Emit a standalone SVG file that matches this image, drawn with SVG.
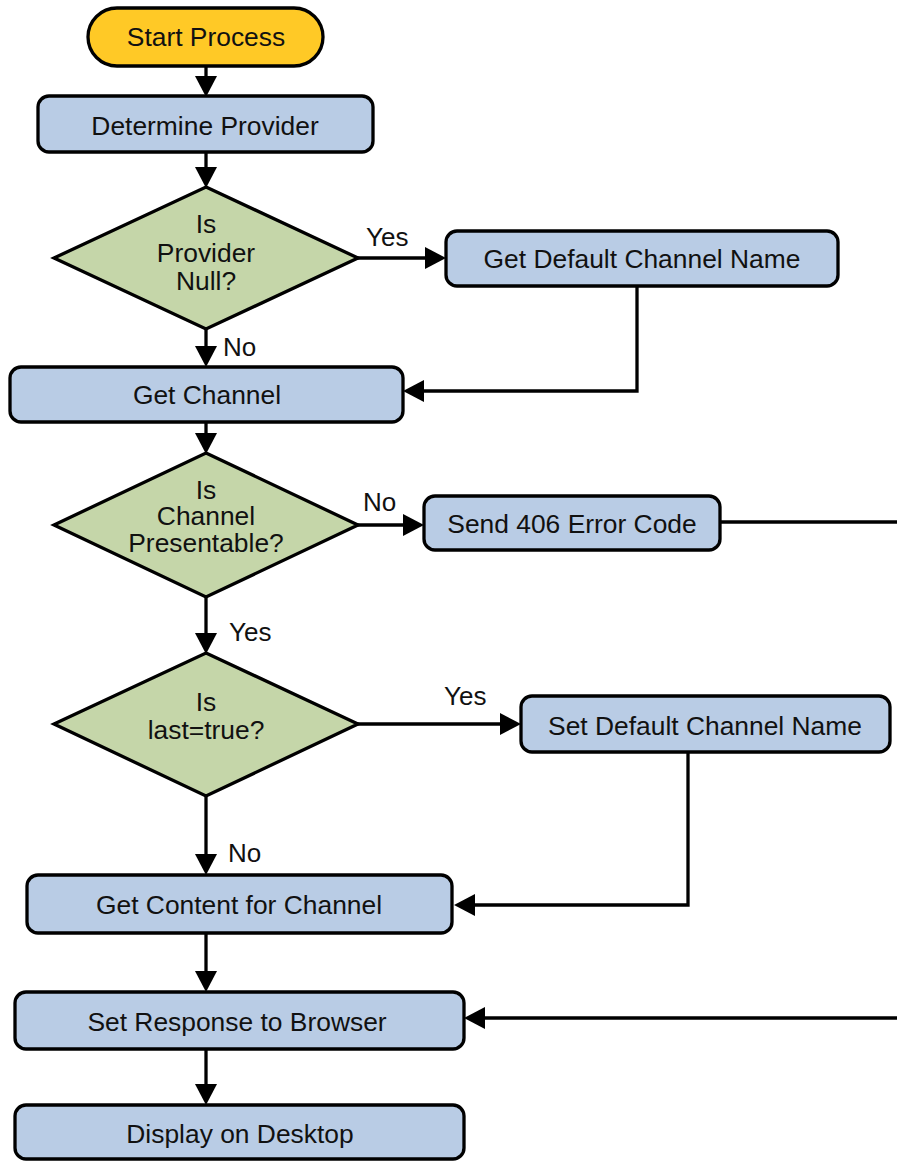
<svg xmlns="http://www.w3.org/2000/svg" width="897" height="1161" viewBox="0 0 897 1161">
  <style>
    .box { fill: #b9cce5; stroke: #000; stroke-width: 3.3; }
    .start { fill: #ffc926; stroke: #000; stroke-width: 3.3; }
    .dec { fill: #c5d6a9; stroke: #000; stroke-width: 3.3; stroke-linejoin: miter; }
    .t { font-family: "Liberation Sans", Arial, sans-serif; font-size: 26.4px; fill: #111; text-anchor: middle; }
    .lbl { font-family: "Liberation Sans", Arial, sans-serif; font-size: 26px; fill: #111; }
    .edge { fill: none; stroke: #000; stroke-width: 3.3; }
  </style>
  <defs>
    <marker id="arrow" markerUnits="userSpaceOnUse" markerWidth="22" markerHeight="22" refX="10" refY="11" orient="auto" viewBox="0 0 22 22">
      <path d="M0,0 L21,11 L0,22 Z" fill="#000"/>
    </marker>
  </defs>
  <rect width="897" height="1161" fill="#fff"/>

  <!-- connectors -->
  <g id="connectors">
    <path class="edge" d="M206,66 V86" marker-end="url(#arrow)"/>
    <path class="edge" d="M206,152 V177" marker-end="url(#arrow)"/>
    <path class="edge" d="M358,258 H435" marker-end="url(#arrow)"/>
    <text class="lbl" x="366" y="246">Yes</text>
    <path class="edge" d="M206,329 V356" marker-end="url(#arrow)"/>
    <text class="lbl" x="223" y="356">No</text>
    <path class="edge" d="M637,286 V391 H414" marker-end="url(#arrow)"/>
    <path class="edge" d="M206,422 V443" marker-end="url(#arrow)"/>
    <path class="edge" d="M358,525 H413" marker-end="url(#arrow)"/>
    <text class="lbl" x="363" y="511">No</text>
    <path class="edge" d="M720,522 H897"/>
    <path class="edge" d="M206,597 V643" marker-end="url(#arrow)"/>
    <text class="lbl" x="229" y="641">Yes</text>
    <path class="edge" d="M358,724 H510" marker-end="url(#arrow)"/>
    <text class="lbl" x="444" y="705">Yes</text>
    <path class="edge" d="M688,752 V905 H465" marker-end="url(#arrow)"/>
    <path class="edge" d="M206,796 V864" marker-end="url(#arrow)"/>
    <text class="lbl" x="228" y="862">No</text>
    <path class="edge" d="M206,933 V981" marker-end="url(#arrow)"/>
    <path class="edge" d="M897,1018 H475" marker-end="url(#arrow)"/>
    <path class="edge" d="M206,1049 V1094" marker-end="url(#arrow)"/>
  </g>

  <g id="start">
    <rect class="start" x="88" y="8" width="235" height="58" rx="29"/>
    <text class="t" x="206" y="46">Start Process</text>
  </g>
  <g id="determine-provider">
    <rect class="box" x="38" y="96" width="335" height="56" rx="11"/>
    <text class="t" x="205" y="135">Determine Provider</text>
  </g>
  <g id="provider-null">
    <polygon class="dec" points="206,187 358,258 206,329 54,258"/>
    <text class="t" x="206" y="233">Is</text>
    <text class="t" x="206" y="262">Provider</text>
    <text class="t" x="206" y="290">Null?</text>
  </g>
  <g id="get-default-channel-name">
    <rect class="box" x="446" y="231" width="392" height="55" rx="11"/>
    <text class="t" x="642" y="268">Get Default Channel Name</text>
  </g>
  <g id="get-channel">
    <rect class="box" x="10" y="367" width="393" height="55" rx="11"/>
    <text class="t" x="207" y="404">Get Channel</text>
  </g>
  <g id="channel-presentable">
    <polygon class="dec" points="206,453 358,525 206,597 54,525"/>
    <text class="t" x="206" y="499">Is</text>
    <text class="t" x="206" y="525">Channel</text>
    <text class="t" x="206" y="552">Presentable?</text>
  </g>
  <g id="send-406">
    <rect class="box" x="424" y="496" width="296" height="54" rx="11"/>
    <text class="t" x="572" y="533">Send 406 Error Code</text>
  </g>
  <g id="last-true">
    <polygon class="dec" points="206,653 358,724 206,796 54,724"/>
    <text class="t" x="206" y="711">Is</text>
    <text class="t" x="206" y="739">last=true?</text>
  </g>
  <g id="set-default-channel-name">
    <rect class="box" x="521" y="696" width="369" height="56" rx="11"/>
    <text class="t" x="705" y="735">Set Default Channel Name</text>
  </g>
  <g id="get-content">
    <rect class="box" x="27" y="875" width="425" height="58" rx="11"/>
    <text class="t" x="239" y="914">Get Content for Channel</text>
  </g>
  <g id="set-response">
    <rect class="box" x="15" y="992" width="449" height="57" rx="11"/>
    <text class="t" x="237" y="1031">Set Response to Browser</text>
  </g>
  <g id="display-desktop">
    <rect class="box" x="15" y="1105" width="449" height="54" rx="11"/>
    <text class="t" x="240" y="1143">Display on Desktop</text>
  </g>
</svg>
